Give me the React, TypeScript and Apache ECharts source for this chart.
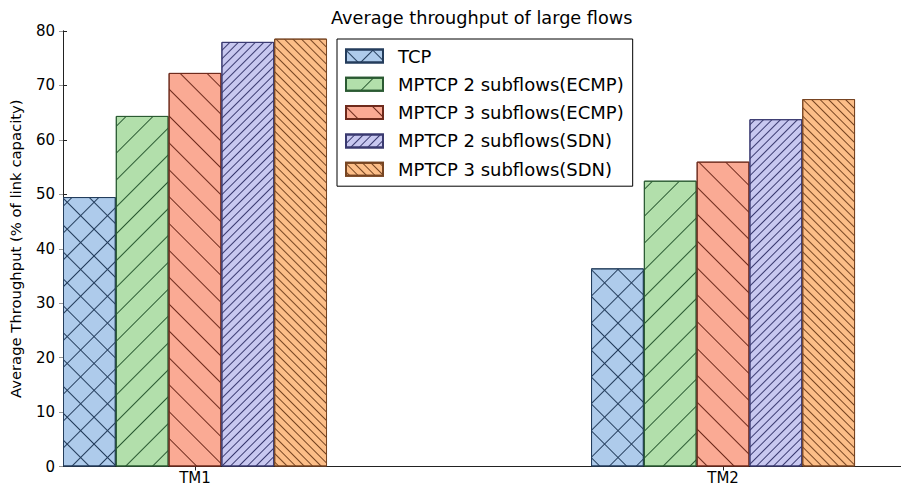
import React, { useEffect, useRef } from 'react';
import * as echarts from 'echarts';

// ---- data ----
const categories = ['TM1', 'TM2'];
const seriesNames = [
  'TCP',
  'MPTCP 2 subflows(ECMP)',
  'MPTCP 3 subflows(ECMP)',
  'MPTCP 2 subflows(SDN)',
  'MPTCP 3 subflows(SDN)',
];
const tcp = [49.5, 36.4];
const mptcp2Ecmp = [64.4, 52.5];
const mptcp3Ecmp = [72.3, 56.0];
const mptcp2Sdn = [78.0, 63.8];
const mptcp3Sdn = [78.6, 67.5];
const yMin = 0;
const yMax = 80;
const yStep = 10;

// ---- styles ----
const fills = ['#aecbeb', '#b2dfab', '#faaa94', '#c8c8f0', '#fcbe88'];
const edges = ['#243d5c', '#2a5a32', '#6e2a1c', '#3a3a70', '#774522'];
const decals: any[] = [
  { symbol: 'rect', dashArrayX: [[1, 0], [1, 18]], dashArrayY: [1, 0, 18, 0], rotation: Math.PI / 4 },
  { symbol: 'rect', dashArrayX: [1, 0], dashArrayY: [1, 18], rotation: -Math.PI / 4 },
  { symbol: 'rect', dashArrayX: [1, 0], dashArrayY: [1, 18], rotation: Math.PI / 4 },
  { symbol: 'rect', dashArrayX: [1, 0], dashArrayY: [1, 5], rotation: -Math.PI / 4 },
  { symbol: 'rect', dashArrayX: [1, 0], dashArrayY: [1, 5], rotation: Math.PI / 4 },
];

const FONT = 'DejaVu Sans';
const seriesValues = [tcp, mptcp2Ecmp, mptcp3Ecmp, mptcp2Sdn, mptcp3Sdn];
const groupOffset = 0.25; // group center within each unit slot
const catPos = categories.map((_, i) => i + groupOffset);

export default function App() {
  const ref = useRef<HTMLDivElement>(null);
  useEffect(() => {
    if (!ref.current) return;
    const chart = echarts.init(ref.current, null, { renderer: 'svg' });
    const labelFor = (v: number) => {
      const idx = catPos.findIndex((p) => Math.abs(p - v) < 1e-6);
      return idx >= 0 ? categories[idx] : '';
    };
    const axisLine = { show: true, lineStyle: { color: '#222', width: 1 } };
    chart.setOption({
      animation: false,
      backgroundColor: '#fff',
      title: {
        text: 'Average throughput of large flows',
        left: 331,
        top: 9,
        padding: 0,
        textStyle: { fontFamily: FONT, fontSize: 17.7, fontWeight: 'normal', color: '#000' },
      },
      legend: {
        orient: 'vertical',
        left: 337,
        top: 39,
        padding: [8, 9, 8, 8],
        itemWidth: 37,
        itemHeight: 13,
        itemGap: 10.3,
        borderColor: '#000',
        borderWidth: 1,
        backgroundColor: '#fff',
        icon: 'rect',
        data: seriesNames,
        textStyle: { fontFamily: FONT, fontSize: 18, color: '#000', lineHeight: 16, padding: [0, 0, 0, 10] },
      },
      grid: { left: 61, top: 31, right: -2, bottom: 19.5 },
      xAxis: [
        {
          type: 'value',
          min: 0,
          max: 1.587,
          splitLine: { show: false },
          axisLine,
          axisTick: { show: true, inside: true, length: 4, customValues: catPos, lineStyle: { color: '#222' } },
          axisLabel: {
            show: true,
            customValues: catPos,
            formatter: (v: number) => labelFor(v),
            fontFamily: FONT,
            fontSize: 15,
            color: '#000',
            margin: 4,
          },
        },
        {
          type: 'value',
          position: 'top',
          min: 0,
          max: 1.587,
          splitLine: { show: false },
          axisLine,
          axisTick: { show: true, inside: true, length: 4, customValues: catPos, lineStyle: { color: '#222' } },
          axisLabel: { show: false },
        },
      ],
      yAxis: [
        {
          type: 'value',
          min: yMin,
          max: yMax,
          interval: yStep,
          name: 'Average Throughput (% of link capacity)',
          nameLocation: 'middle',
          nameGap: 40,
          nameTextStyle: { fontFamily: FONT, fontSize: 14.8, color: '#000' },
          splitLine: { show: false },
          axisLine,
          axisTick: { show: true, inside: true, length: 4, lineStyle: { color: '#222' } },
          axisLabel: { fontFamily: FONT, fontSize: 15, color: '#000', margin: 8 },
        },
        {
          type: 'value',
          position: 'right',
          min: yMin,
          max: yMax,
          interval: yStep,
          splitLine: { show: false },
          axisLine,
          axisTick: { show: true, inside: true, length: 4, lineStyle: { color: '#999' } },
          axisLabel: { show: false },
        },
      ],
      series: seriesNames.map((name, s) => ({
        name,
        type: 'bar',
        xAxisIndex: 0,
        yAxisIndex: 0,
        barWidth: '10%',
        barGap: '0%',
        data: seriesValues[s].map((v, i) => [catPos[i], v]),
        itemStyle: {
          color: fills[s],
          borderColor: edges[s],
          borderWidth: 1,
          decal: { ...decals[s], color: edges[s] },
        },
      })),
    });
    return () => chart.dispose();
  }, []);
  return <div ref={ref} style={{ position: 'absolute', left: 0, top: 0, width: 901, height: 486 }} />;
}
